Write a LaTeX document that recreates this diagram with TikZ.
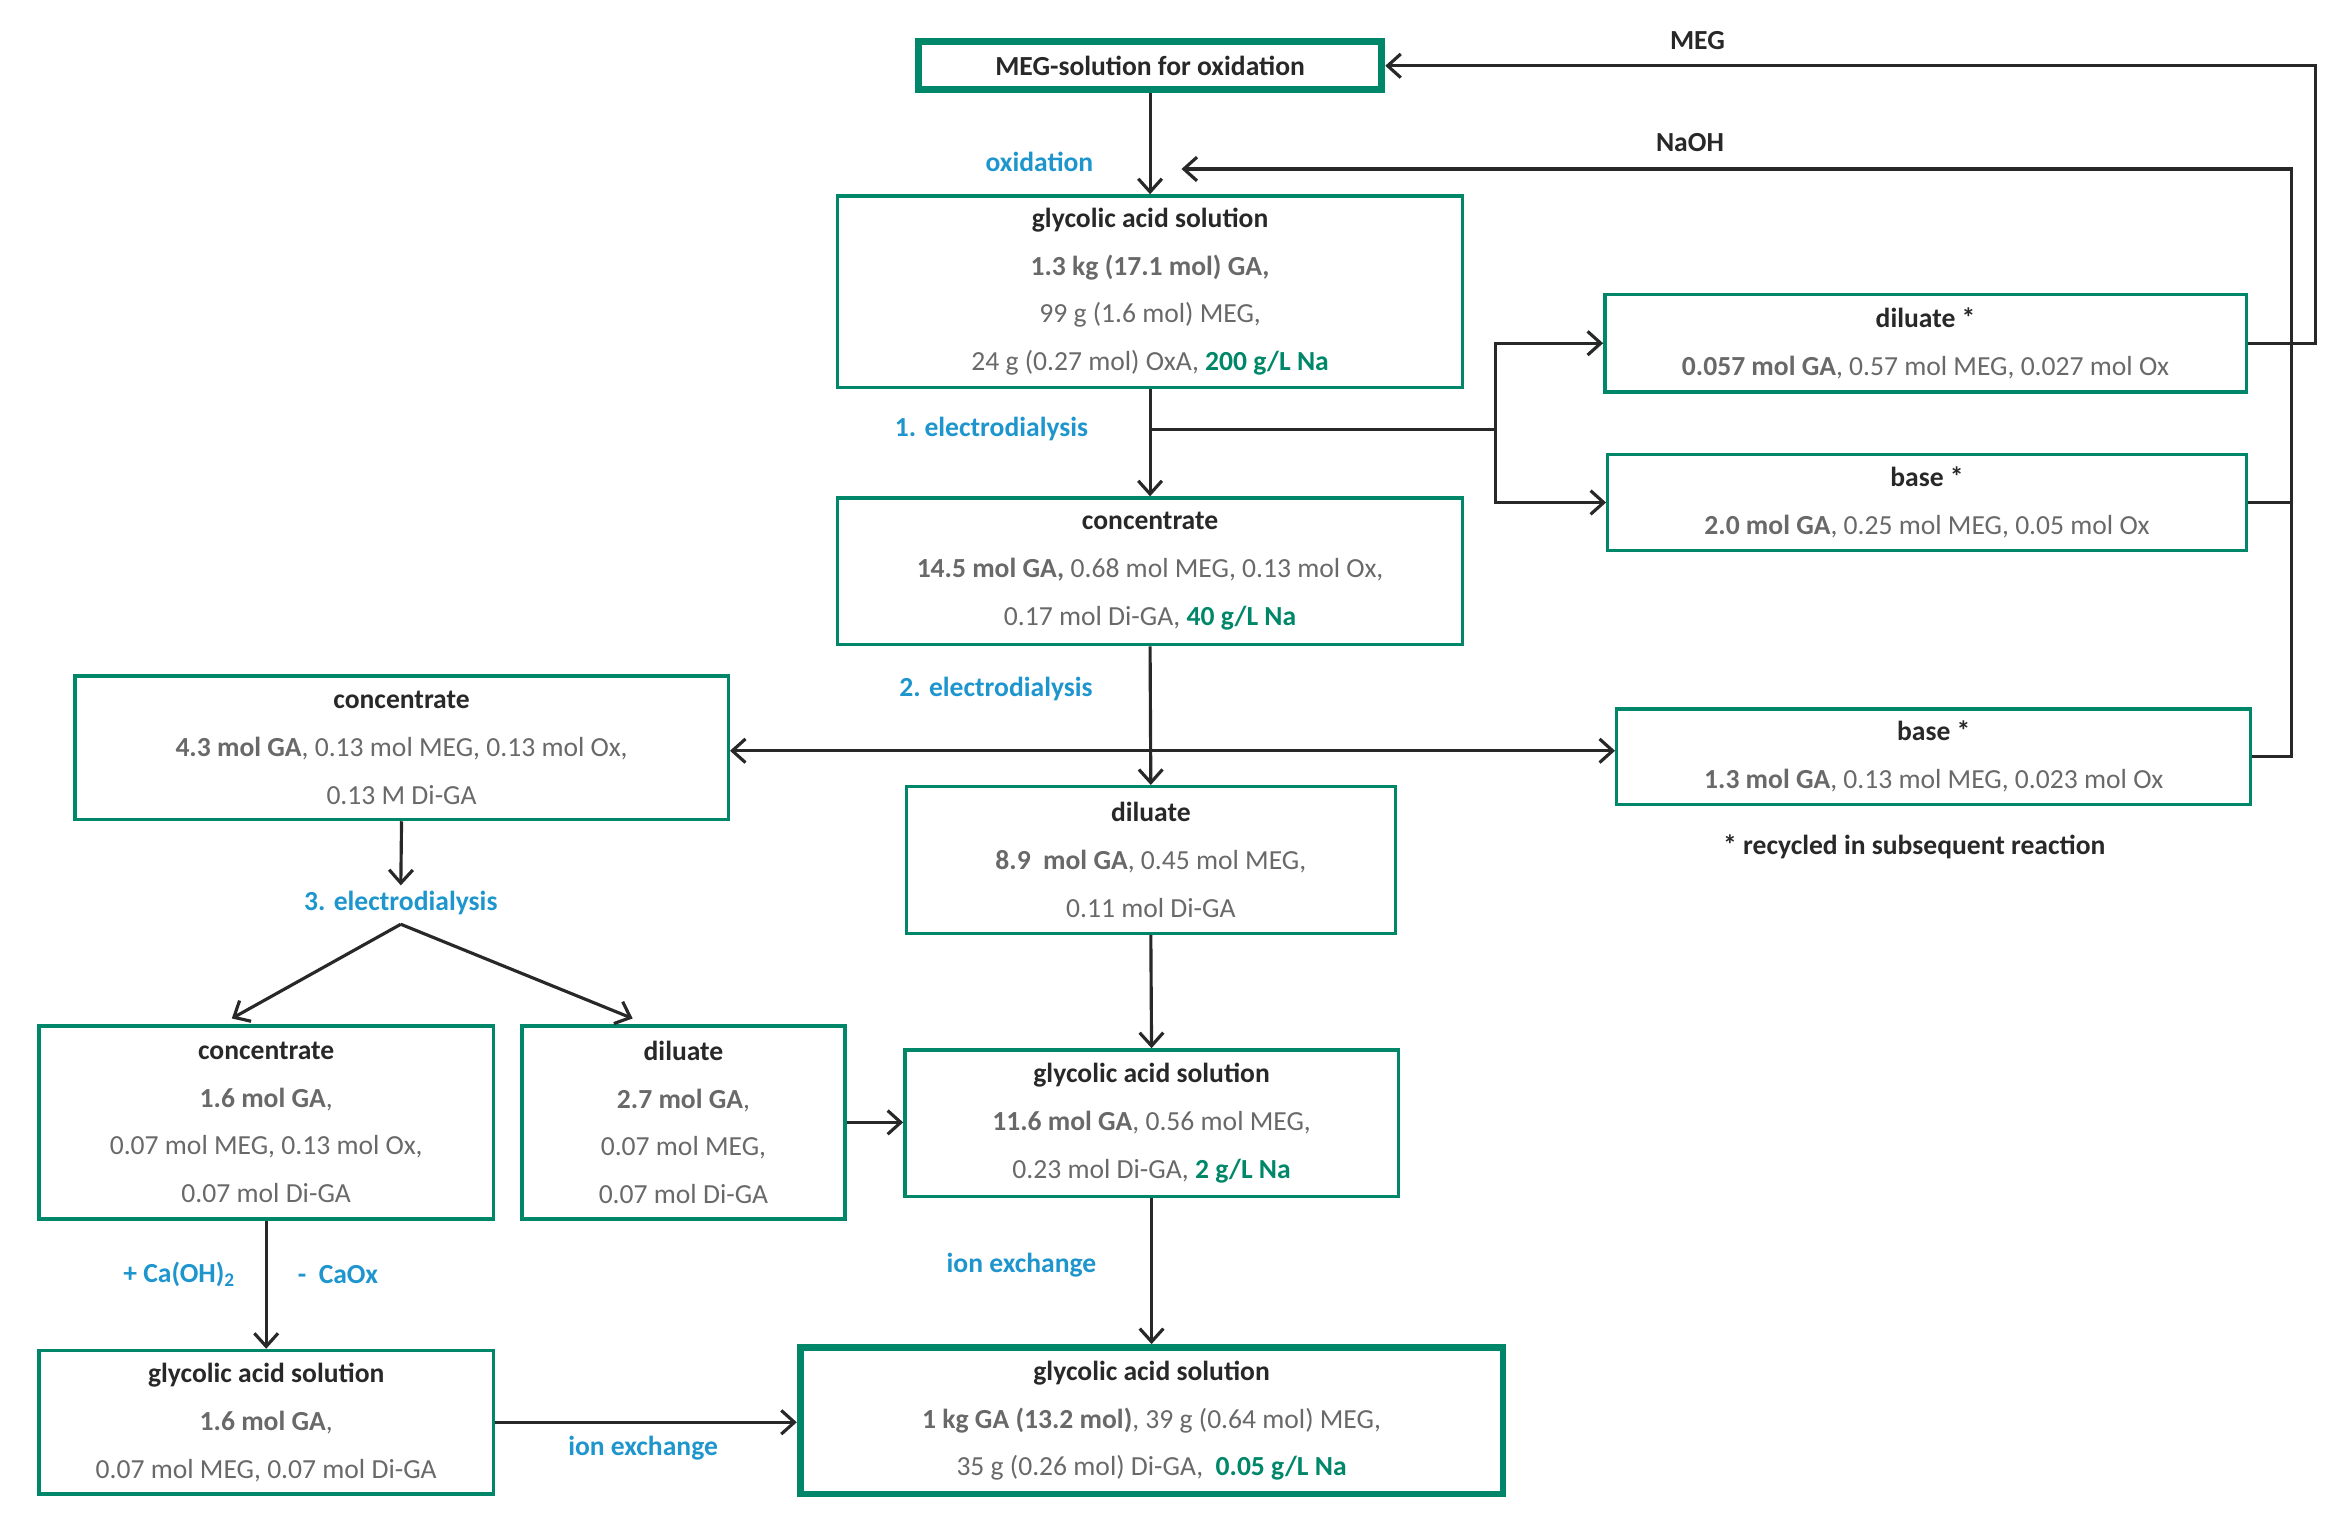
\documentclass[tikz,border=0pt]{standalone}
\usepackage{fontspec}
\setmainfont{Carlito}
\usetikzlibrary{arrows.meta}
\definecolor{bx}{RGB}{0,135,105}
\definecolor{lb}{RGB}{30,150,205}
\definecolor{tx}{RGB}{105,105,105}
\definecolor{dk}{RGB}{40,40,40}
\begin{document}
\begin{tikzpicture}[x=0.02cm,y=-0.02cm,
 box/.style={draw=bx,line width=1.3pt,align=center,inner sep=0pt,text=tx,font=\fontsize{10.5}{18.2}\selectfont},
 thick box/.style={box,line width=2.6pt},
 arr/.style={-{Straight Barb[length=5pt,width=9pt]},line width=1.2pt,dk},
 ln/.style={line width=1.2pt,dk},
 lab/.style={text=lb,font=\fontsize{10.5}{12}\selectfont\bfseries},
 hd/.style={text=dk,font=\fontsize{10.5}{12}\selectfont\bfseries}]
\useasboundingbox (0,0) rectangle (1568,1027);
\def\T#1{\textcolor{dk}{\textbf{#1}}}
\def\G#1{\textcolor{bx}{\textbf{#1}}}
\node[thick box,minimum width=6.2cm,minimum height=0.64cm,text=dk] (meg) at (769,44) {\textbf{MEG-solution for oxidation}};
\node[box,minimum width=8.36cm,minimum height=2.56cm] (ga1) at (769,195) {\T{glycolic acid solution}\\ \textbf{1.3 kg (17.1 mol) GA,}\\ 99 g (1.6 mol) MEG,\\ 24 g (0.27 mol) OxA, \G{200 g/L Na}};
\node[box,minimum width=8.58cm,minimum height=1.3cm] (dil1) at (1287.5,229.5) {\T{diluate *}\\ \textbf{0.057 mol GA}, 0.57 mol MEG, 0.027 mol Ox};
\node[box,minimum width=8.54cm,minimum height=1.28cm] (base1) at (1288.5,336) {\T{base *}\\ \textbf{2.0 mol GA}, 0.25 mol MEG, 0.05 mol Ox};
\node[box,minimum width=8.36cm,minimum height=1.96cm] (conc) at (769,382) {\T{concentrate}\\ \textbf{14.5 mol GA,} 0.68 mol MEG, 0.13 mol Ox,\\ 0.17 mol Di-GA, \G{40 g/L Na}};
\node[box,minimum width=8.74cm,minimum height=1.92cm] (concL) at (268.5,500) {\T{concentrate}\\ \textbf{4.3 mol GA}, 0.13 mol MEG, 0.13 mol Ox,\\ 0.13 M Di-GA};
\node[box,minimum width=8.48cm,minimum height=1.28cm] (base2) at (1293,506) {\T{base *}\\ \textbf{1.3 mol GA}, 0.13 mol MEG, 0.023 mol Ox};
\node[hd] (note) at (1280,566) {* recycled in subsequent reaction};
\node[box,minimum width=6.54cm,minimum height=1.96cm] (dilM) at (769.5,575) {\T{diluate}\\ \textbf{8.9\ \ mol GA}, 0.45 mol MEG,\\ 0.11 mol Di-GA};
\node[box,minimum width=6.08cm,minimum height=2.58cm] (concBL) at (178,750.5) {\T{concentrate}\\ \textbf{1.6 mol GA},\\ 0.07 mol MEG, 0.13 mol Ox,\\ 0.07 mol Di-GA};
\node[box,minimum width=4.32cm,minimum height=2.58cm] (dilL) at (457,750.5) {\T{diluate}\\ \textbf{2.7 mol GA},\\ 0.07 mol MEG,\\ 0.07 mol Di-GA};
\node[box,minimum width=6.6cm,minimum height=1.96cm] (gaM) at (770,751) {\T{glycolic acid solution}\\ \textbf{11.6 mol GA}, 0.56 mol MEG,\\ 0.23 mol Di-GA, \G{2 g/L Na}};
\node[box,minimum width=6.08cm,minimum height=1.92cm] (gaBL) at (178,951) {\T{glycolic acid solution}\\ \textbf{1.6 mol GA},\\ 0.07 mol MEG, 0.07 mol Di-GA};
\node[thick box,minimum width=9.4cm,minimum height=1.96cm] (final) at (770,950) {\T{glycolic acid solution}\\ \textbf{1 kg GA (13.2 mol)}, 39 g (0.64 mol) MEG,\\ 35 g (0.26 mol) Di-GA,\ \ \G{0.05 g/L Na}};
% labels
\node[lab] (l0) at (695,108) {oxidation};
\node[hd] (lmeg) at (1135,27) {MEG};
\node[hd] (lnaoh) at (1130,95) {NaOH};
\node[lab] (l1) at (663,287) {1. electrodialysis};
\node[lab] (l2) at (666,461) {2. electrodialysis};
\node[lab] (l3) at (268,604) {3. electrodialysis};
\node[lab] (l4) at (683,846) {ion exchange};
\node[lab] (l5) at (430,968) {ion exchange};
\node[lab] (l6) at (120,852) {+ Ca(OH)$_{\mathbf 2}$};
\node[lab] (l7) at (226,852) {-\ \ CaOx};
% connectors
\draw[arr] (meg.south) -- (ga1.north);
\draw[arr] (dil1.east) -- (1548,229.5) -- (1548,44) -- (meg.east);
\draw[ln] (base1.east) -- (1532,336);
\draw[arr] (base2.east) -- (1532,506) -- (1532,113) -- (790,113);
\draw[arr] (ga1.south) -- (conc.north);
\coordinate (b1) at (769,287);
\coordinate (b2) at (1000,287);
\draw[ln] (b1) -- (b2);
\draw[arr] (b2) |- (dil1.west);
\draw[arr] (b2) |- (base1.west);
\draw[arr] (conc.south) -- (dilM.north);
\draw[arr] (769,502) -- (concL.east |- 0,502);
\draw[arr] (769,502) -- (base2.west |- 0,502);
\draw[arr] (concL.south) -- (268,592);
\coordinate (s3) at (268,618);
\draw[arr] (s3) -- (155,681);
\draw[arr] (s3) -- (423,681);
\draw[arr] (dilM.south) -- (gaM.north);
\draw[arr] (dilL.east) -- (gaM.west |- dilL.east);
\draw[arr] (gaM.south) -- (final.north);
\draw[arr] (concBL.south) -- (gaBL.north);
\draw[arr] (gaBL.east) -- (final.west |- gaBL.east);
\end{tikzpicture}
\end{document}
